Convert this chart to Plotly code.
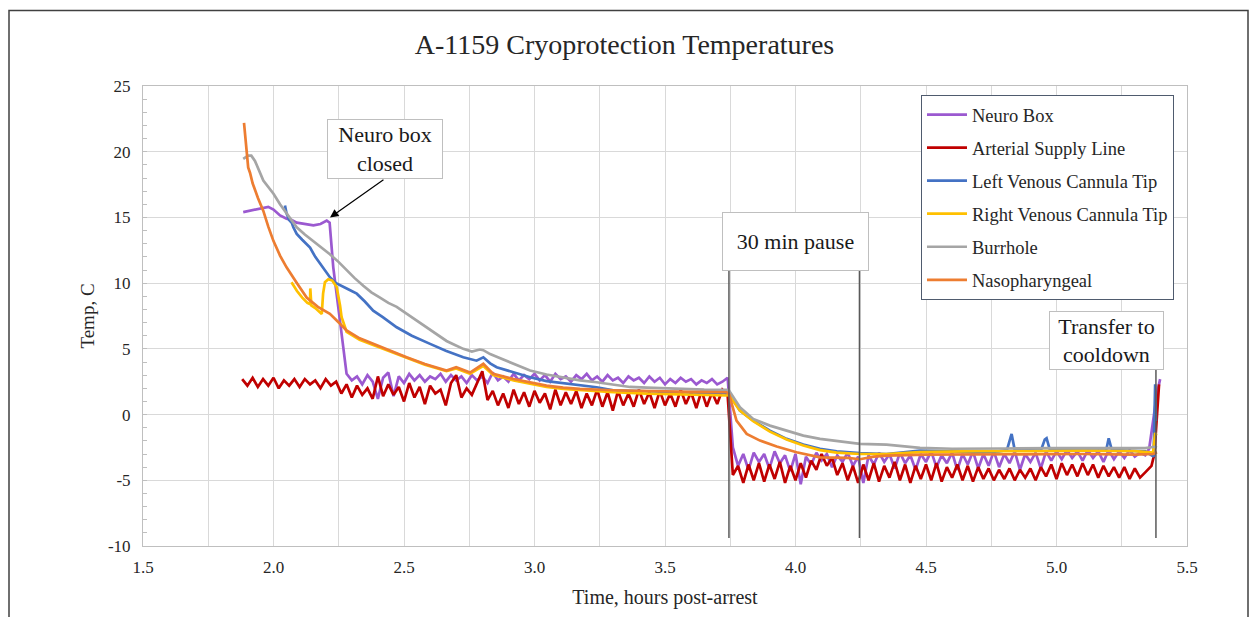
import numpy as np
import plotly.graph_objects as go

# ---------------- DATA ----------------
# Neuro Box: smooth head, noisy segment sampled every 0.02 h, tail
neuro_head_t = [1.884, 1.91, 1.935, 1.96, 1.98, 2.0, 2.025, 2.05, 2.07, 2.089, 2.12, 2.153,
                2.18, 2.204, 2.215, 2.229, 2.248, 2.267, 2.28]
neuro_head_T = [15.4, 15.5, 15.65, 15.7, 15.8, 15.6, 15.15, 14.9, 14.8, 14.6, 14.5, 14.4,
                14.5, 14.76, 14.6, 11.2, 8.2, 4.87, 3.1]
neuro_start, neuro_step = 2.30, 0.02
neuro_vals = [2.6, 2.9, 2.3, 3.0, 2.5, 1.2, 2.8, 3.2, 1.4, 2.9,
              2.4, 3.1, 2.6, 3.0, 2.5, 2.9, 2.7, 3.1, 2.5, 3.0,
              2.6, 2.9, 2.4, 3.0, 2.6, 2.9, 2.4, 3.2, 2.6, 2.9,
              2.5, 3.1, 2.6, 3.0, 2.7, 3.1, 2.6, 3.0, 2.5, 3.1,
              2.7, 2.9, 2.5, 3.0, 2.7, 3.1, 2.6, 2.9, 2.5, 3.0,
              2.6, 2.8, 2.4, 2.9, 2.6, 2.8, 2.4, 2.9, 2.5, 2.8,
              2.3, 2.7, 2.4, 2.8, 2.5, 2.7, 2.3, 2.6, 2.4, 2.7,
              2.3, 2.5, 2.8, -2.5, -3.9, -3.0, -4.2, -2.9, -3.6, -3.0,
              -4.1, -2.8, -3.7, -3.1, -4.3, -3.0, -5.3, -3.2, -3.8, -2.9,
              -3.5, -3.0, -4.0, -3.1, -3.6, -2.9, -3.9, -3.2, -5.2, -3.1,
              -3.8, -2.9, -3.6, -3.0, -4.1, -2.9, -3.7, -3.1, -4.2, -3.0,
              -3.6, -2.8, -4.0, -3.1, -3.7, -2.9, -4.2, -3.0, -3.8, -2.8,
              -4.1, -3.0, -3.9, -2.8, -4.0, -3.0, -3.7, -2.8, -4.2, -3.0,
              -3.6, -2.9, -4.1, -2.8, -3.5, -2.8, -3.4, -2.7, -3.3, -2.8,
              -3.5, -2.7, -3.3, -2.8, -3.6, -2.7, -3.4, -2.8, -3.3, -2.7,
              -3.2, -2.9, -3.1]
neuro_tail_t = [5.355, 5.37, 5.385, 5.397]
neuro_tail_T = [-2.6, -0.5, 1.6, 2.7]

# Arterial Supply Line: sampled every 0.02 h from 1.88 h, then tail
art_start, art_step = 1.88, 0.02
art_vals = [2.7, 2.2, 2.8, 2.1, 2.7, 2.2, 2.8, 2.0, 2.6, 2.2,
            2.7, 2.1, 2.7, 2.3, 2.6, 2.0, 2.7, 2.2, 2.5, 1.6,
            2.3, 1.3, 2.2, 1.5, 2.0, 1.2, 2.9, 1.4, 2.3, 1.5,
            2.1, 1.0, 2.4, 1.3, 2.1, 0.8, 2.2, 1.6, 1.9, 0.7,
            2.4, 3.0, 1.3, 2.0, 1.5, 2.4, 3.3, 1.1, 1.8, 0.7,
            1.6, 0.5, 1.9, 0.8, 1.7, 0.6, 1.8, 0.9, 1.6, 0.4,
            1.9, 0.7, 1.7, 0.8, 1.8, 0.5, 1.6, 0.7, 1.9, 0.6,
            1.7, 0.3, 1.8, 0.7, 1.6, 0.6, 1.9, 0.8, 1.7, 0.5,
            1.8, 0.7, 1.6, 0.6, 1.9, 0.8, 1.7, 0.5, 1.8, 0.6,
            1.7, 0.8, 1.9, 1.5, -4.6, -3.9, -5.2, -3.8, -5.0, -3.7,
            -5.1, -3.8, -4.9, -3.6, -5.2, -3.9, -5.0, -3.7, -4.8, -3.5,
            -4.2, -3.0, -3.9, -3.3, -4.6, -3.7, -5.0, -3.9, -5.2, -3.8,
            -5.0, -3.7, -5.1, -3.9, -4.8, -3.6, -5.0, -3.8, -5.2, -3.9,
            -4.9, -3.8, -5.0, -3.7, -5.1, -4.0, -4.8, -3.8, -5.0, -3.9,
            -5.1, -4.0, -4.9, -4.1, -5.0, -4.2, -4.9, -4.1, -5.0, -4.2,
            -4.8, -4.1, -5.0, -4.0, -4.7, -3.8, -4.9, -3.7, -4.6, -3.8,
            -4.7, -3.7, -4.6, -3.8, -4.8, -3.9, -4.7, -4.0, -4.8, -4.0,
            -4.9, -4.1, -4.8, -4.4]
art_tail_t = [5.364, 5.375, 5.385, 5.393]
art_tail_T = [-3.9, -3.0, 0.0, 2.3]

# Left Venous Cannula Tip
lv_t = [2.044, 2.05, 2.06, 2.07, 2.076, 2.089, 2.11, 2.14, 2.16, 2.178, 2.2, 2.216, 2.24,
        2.267, 2.29, 2.319, 2.35, 2.382, 2.42, 2.472, 2.53, 2.6, 2.66, 2.727, 2.778, 2.804,
        2.83, 2.855, 2.92, 2.983, 3.046, 3.11, 3.174, 3.238, 3.302, 3.43, 3.557, 3.736, 3.745,
        3.787, 3.838, 3.902, 3.966, 4.03, 4.094, 4.158, 4.247, 4.349, 4.477, 4.6, 4.694, 4.78,
        4.81, 4.828, 4.84, 4.94, 4.955, 4.962, 4.975, 5.19, 5.2, 5.212, 5.34, 5.372, 5.378, 5.381]
lv_T = [15.9, 15.3, 14.8, 14.6, 14.25, 13.75, 13.3, 12.7, 12.0, 11.5, 10.9, 10.45, 10.0,
        9.7, 9.5, 9.2, 8.6, 7.9, 7.4, 6.64, 6.0, 5.38, 4.85, 4.36, 4.1, 4.36,
        3.9, 3.6, 3.2, 2.84, 2.55, 2.4, 2.2, 2.08, 1.85, 1.75, 1.7, 1.62, 1.6,
        0.3, -0.46, -1.22, -1.85, -2.28, -2.61, -2.8, -2.94, -3.0, -2.74, -2.8, -2.87, -2.8,
        -2.7, -1.47, -2.7, -2.75, -1.9, -1.8, -2.7, -2.75, -1.8, -2.7, -2.8, -3.2, 2.3, -0.5]

# Right Venous Cannula Tip
rv_t = [2.069, 2.09, 2.11, 2.13, 2.14, 2.141, 2.145, 2.16, 2.185, 2.19, 2.197, 2.21, 2.225,
        2.242, 2.255, 2.261, 2.28, 2.33, 2.382, 2.45, 2.51, 2.58, 2.663, 2.70, 2.753, 2.804,
        2.842, 2.92, 2.983, 3.046, 3.11, 3.174, 3.302, 3.43, 3.6, 3.736, 3.745, 3.787, 3.838,
        3.902, 3.966, 4.03, 4.094, 4.158, 4.247, 4.349, 4.477, 4.694, 4.9, 5.1, 5.3, 5.37,
        5.378, 5.383]
rv_T = [10.07, 9.4, 8.9, 8.5, 8.4, 9.6, 8.3, 8.1, 7.66, 9.2, 10.07, 10.3, 10.2,
        9.7, 8.3, 7.4, 6.3, 5.7, 5.3, 4.8, 4.3, 3.8, 3.3, 3.5, 3.1, 3.7,
        3.0, 2.6, 2.35, 2.1, 1.95, 1.85, 1.7, 1.6, 1.5, 1.45, 1.5, 0.3, -0.5,
        -1.3, -1.9, -2.35, -2.7, -2.9, -3.0, -3.0, -2.85, -2.78, -2.78, -2.74, -2.78, -2.9,
        -1.4, -1.6]

# Burrhole
bh_t = [1.884, 1.903, 1.915, 1.929, 1.961, 2.0, 2.025, 2.06, 2.089, 2.12, 2.153, 2.185,
        2.216, 2.25, 2.28, 2.31, 2.344, 2.375, 2.408, 2.44, 2.472, 2.505, 2.536, 2.57, 2.6,
        2.63, 2.663, 2.695, 2.727, 2.76, 2.79, 2.804, 2.83, 2.855, 2.919, 2.983, 3.046, 3.11,
        3.174, 3.238, 3.302, 3.366, 3.43, 3.557, 3.65, 3.736, 3.745, 3.787, 3.838, 3.902,
        3.966, 4.03, 4.094, 4.158, 4.247, 4.349, 4.477, 4.6, 4.694, 4.8, 5.0, 5.2, 5.34,
        5.375, 5.385]
bh_T = [19.45, 19.7, 19.7, 19.3, 17.8, 16.8, 16.0, 15.0, 14.25, 13.7, 13.2, 12.7,
        12.2, 11.6, 10.96, 10.4, 9.8, 9.3, 8.9, 8.5, 8.2, 7.75, 7.3, 6.8, 6.4,
        6.0, 5.6, 5.3, 5.0, 4.8, 4.95, 4.9, 4.6, 4.4, 3.86, 3.35, 3.05, 2.84,
        2.6, 2.46, 2.28, 2.1, 2.05, 1.95, 1.9, 1.88, 1.83, 0.56, -0.33, -0.84,
        -1.22, -1.6, -1.85, -2.03, -2.23, -2.28, -2.54, -2.6, -2.61, -2.58, -2.56, -2.56, -2.55,
        -2.45, -2.5]

# Nasopharyngeal
np_t = [1.887, 1.895, 1.903, 1.91, 1.92, 1.94, 1.961, 1.98, 2.0, 2.025, 2.05, 2.09, 2.127,
        2.17, 2.216, 2.25, 2.28, 2.33, 2.382, 2.45, 2.51, 2.58, 2.663, 2.70, 2.753, 2.804,
        2.842, 2.92, 2.983, 3.046, 3.11, 3.174, 3.302, 3.43, 3.6, 3.736, 3.745, 3.774, 3.813,
        3.864, 3.928, 4.004, 4.094, 4.2, 4.247, 4.3, 4.349, 4.5, 4.7, 4.9, 5.1, 5.3, 5.37, 5.385]
np_T = [22.2, 20.5, 18.8, 18.4, 17.6, 16.5, 15.5, 14.3, 13.2, 12.1, 11.2, 10.0, 8.9,
        8.2, 7.66, 7.0, 6.4, 5.8, 5.38, 4.85, 4.36, 3.85, 3.35, 3.6, 3.2, 3.86,
        3.1, 2.71, 2.46, 2.2, 2.05, 1.95, 1.85, 1.77, 1.72, 1.7, 1.57, -0.46, -1.47,
        -1.98, -2.43, -2.87, -3.25, -3.3, -3.4, -3.2, -3.12, -3.05, -3.04, -3.0, -3.0, -3.05, -3.0, -2.87]

series_names = ["Neuro Box", "Arterial Supply Line", "Left Venous Cannula Tip",
                "Right Venous Cannula Tip", "Burrhole", "Nasopharyngeal"]
series_colors = ["#9b59d0", "#c00000", "#4472c4", "#ffc000", "#a5a5a5", "#ed7d31"]

# Axis ticks
y_ticks = [-10, -5, 0, 5, 10, 15, 20, 25]
y_tick_labels = ["-10", "-5", "0", "5", "10", "15", "20", "25"]

# Events
neuro_closed_t, neuro_closed_T = 2.2165, 15.0
pause_start_t, pause_end_t = 3.745, 4.245
transfer_t = 5.381

# ---------------- BUILD ----------------
def sampled(start, step, vals):
    return list(np.round(start + step * np.arange(len(vals)), 3))

neuro_t = neuro_head_t + sampled(neuro_start, neuro_step, neuro_vals) + neuro_tail_t
neuro_T = neuro_head_T + neuro_vals + neuro_tail_T
art_t = sampled(art_start, art_step, art_vals) + art_tail_t
art_T = art_vals + art_tail_T

xs = [neuro_t, art_t, lv_t, rv_t, bh_t, np_t]
ys = [neuro_T, art_T, lv_T, rv_T, bh_T, np_T]

fig = go.Figure()
for name, color, x, y in zip(series_names, series_colors, xs, ys):
    fig.add_trace(go.Scatter(x=x, y=y, mode="lines", name=name, legendgroup=name,
                             line=dict(color=color, width=2.7)))

FONT = "Liberation Serif, Times New Roman, serif"
grid_c = "#d9d9d9"

fig.update_layout(
    width=1249, height=617,
    margin=dict(l=143, r=62, t=86, b=71),
    paper_bgcolor="white", plot_bgcolor="white",
    font=dict(family=FONT, color="#262626", size=17),
    title=dict(text="A-1159 Cryoprotection Temperatures", x=0.5, xanchor="center",
               y=1 - 44 / 617, yanchor="middle", font=dict(size=28, color="#262626")),
    legend=dict(x=0.7452, y=0.9804, xanchor="left", yanchor="top", bgcolor="white",
                bordercolor="#4f5b6e", borderwidth=1, font=dict(size=18.5),
                tracegroupgap=6, itemwidth=40),
    xaxis=dict(range=[1.5, 5.5], tick0=1.5, dtick=0.5, tickformat=".1f",
               showgrid=True, gridcolor=grid_c, gridwidth=1, zeroline=False,
               minor=dict(tick0=1.5, dtick=0.25, showgrid=True, gridcolor=grid_c, gridwidth=1),
               showline=True, linecolor="#bfbfbf", linewidth=1, mirror=True, ticks="",
               ticklabelstandoff=6, tickfont=dict(size=17),
               title=dict(text="Time, hours post-arrest", font=dict(size=20), standoff=13)),
    yaxis=dict(range=[-10, 25], tickvals=y_ticks, ticktext=y_tick_labels,
               showgrid=True, gridcolor=grid_c,
               gridwidth=1, zeroline=False, showline=True, linecolor="#bfbfbf",
               linewidth=1, mirror=True, ticks="inside", ticklen=4, tickcolor="#bfbfbf",
               minor=dict(dtick=1, ticks="inside", ticklen=4, tickcolor="#bfbfbf",
                          showgrid=False),
               ticklabelstandoff=8, tickfont=dict(size=17),
               title=dict(text="Temp, C", font=dict(size=19), standoff=8)),
)

line_c = "#595959"
for t, top in [(pause_start_t, 11.0), (pause_end_t, 11.0), (transfer_t, 3.42)]:
    fig.add_shape(type="line", xref="x", yref="y", x0=t, x1=t, y0=-9.4, y1=top,
                  line=dict(color=line_c, width=1.5), layer="above")

# outer chart-area border
fig.add_shape(type="rect", xref="paper", yref="paper",
              x0=(9 - 143) / 1044, x1=(1248 - 143) / 1044,
              y0=-0.25, y1=(546 - 10.5) / 460,
              line=dict(color="#404040", width=1.5), fillcolor="rgba(0,0,0,0)", layer="above")

box = dict(showarrow=False, bgcolor="white", bordercolor="#bfbfbf", borderwidth=1,
           borderpad=1, font=dict(size=22, color="#1a1a1a"), xref="x", yref="y")
fig.add_annotation(x=2.427, y=20.18, text="Neuro box<br>closed", width=112, height=56, **box)
fig.add_annotation(x=(pause_start_t + pause_end_t) / 2 + 0.005, y=13.2, text="30 min pause",
                   width=143, height=55, **box)
fig.add_annotation(x=5.193, y=5.63, text="Transfer to<br>cooldown", width=111, height=55, **box)
fig.add_annotation(x=neuro_closed_t, y=neuro_closed_T, ax=2.427, ay=17.94,
                   xref="x", yref="y", axref="x", ayref="y", text="", showarrow=True,
                   arrowhead=2, arrowsize=1.4, arrowwidth=1.2, arrowcolor="black")

fig.write_html("out.html", config={"displayModeBar": False},
               post_script="document.body.style.margin='0px';")
